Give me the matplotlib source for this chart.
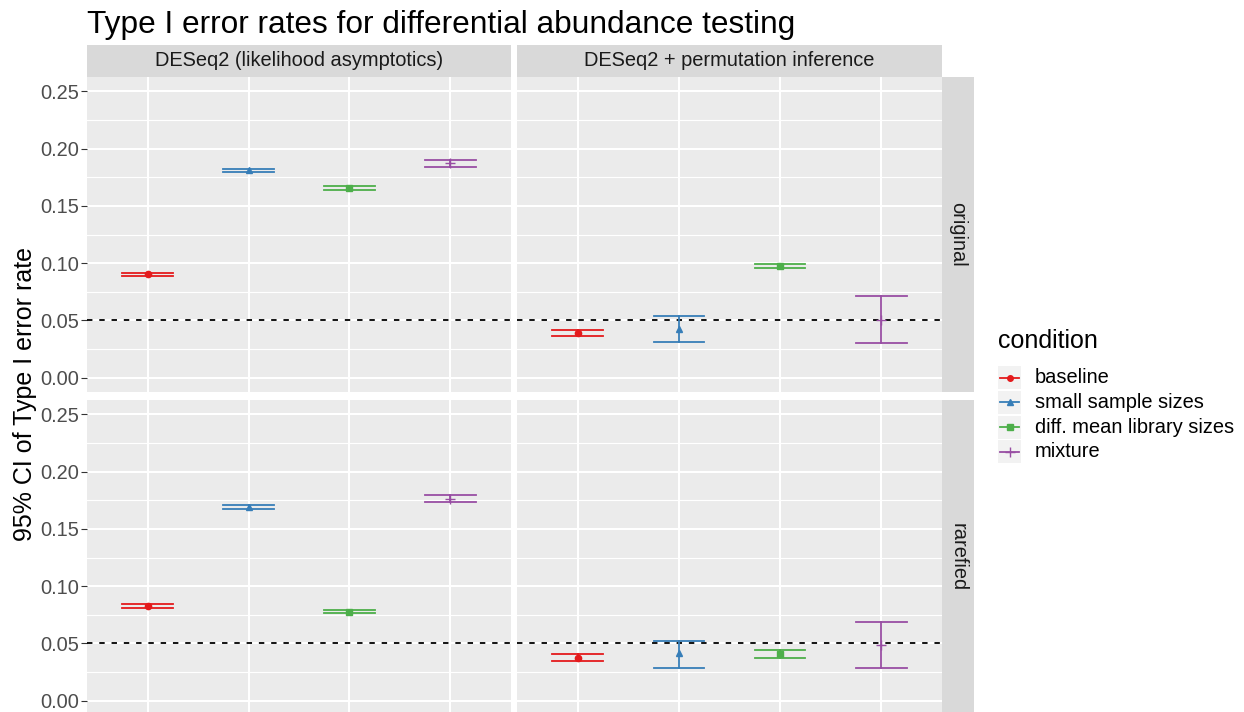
import numpy as np
import matplotlib
matplotlib.use('Agg')
import matplotlib.pyplot as plt
from matplotlib.patches import Rectangle

plt.rcParams['font.family'] = ['Liberation Sans', 'DejaVu Sans']

W, H = 1244, 712

conditions = ['baseline', 'small sample sizes', 'diff. mean library sizes', 'mixture']
colors = ['#E41A1C', '#377EB8', '#4DAF4A', '#984EA3']
markers = ['o', '^', 's', '+']

methods = ['DESeq2 (likelihood asymptotics)', 'DESeq2 + permutation inference']
datasets = ['original', 'rarefied']

# point estimate and 95% CI bounds, one list per panel
orig_asym_est = [0.0905, 0.1810, 0.1655, 0.1870]
orig_asym_lo = [0.0889, 0.1792, 0.1638, 0.1838]
orig_asym_hi = [0.0917, 0.1823, 0.1675, 0.1899]

orig_perm_est = [0.0386, 0.0424, 0.0975, 0.0506]
orig_perm_lo = [0.0360, 0.0308, 0.0958, 0.0299]
orig_perm_hi = [0.0418, 0.0537, 0.0990, 0.0714]

rare_asym_est = [0.0825, 0.1690, 0.0777, 0.1765]
rare_asym_lo = [0.0811, 0.1671, 0.0765, 0.1732]
rare_asym_hi = [0.0840, 0.1706, 0.0788, 0.1796]

rare_perm_est = [0.0375, 0.0412, 0.0410, 0.0485]
rare_perm_lo = [0.0348, 0.0287, 0.0375, 0.0282]
rare_perm_hi = [0.0406, 0.0523, 0.0444, 0.0691]

panels = {
    ('original', 0): (orig_asym_est, orig_asym_lo, orig_asym_hi),
    ('original', 1): (orig_perm_est, orig_perm_lo, orig_perm_hi),
    ('rarefied', 0): (rare_asym_est, rare_asym_lo, rare_asym_hi),
    ('rarefied', 1): (rare_perm_est, rare_perm_lo, rare_perm_hi),
}

yticks = [0.00, 0.05, 0.10, 0.15, 0.20, 0.25]
alpha_level = 0.05


def px_axes(fig, x0, y0, x1, y1):
    return fig.add_axes([x0 / W, 1 - y1 / H, (x1 - x0) / W, (y1 - y0) / H])


def msize(m):
    return 7 if m == '+' else 4.5


fig = plt.figure(figsize=(W / 100, H / 100), dpi=100)

col_x = [(87, 511), (517, 942)]
row_y = [(77, 392), (400, 715)]

for r, ds in enumerate(datasets):
    for c in range(2):
        x0, x1 = col_x[c]
        y0, y1 = row_y[r]
        ax = px_axes(fig, x0, y0, x1, y1)
        ax.set_facecolor('#EBEBEB')
        for s in ax.spines.values():
            s.set_visible(False)
        ax.set_xlim(0.4, 4.6)
        ax.set_ylim(-0.0125, 0.2625)
        ax.set_xticks([1, 2, 3, 4])
        ax.set_xticklabels([])
        ax.set_yticks(yticks)
        ax.set_yticks([0.025, 0.075, 0.125, 0.175, 0.225], minor=True)
        ax.grid(which='major', color='white', linewidth=1.5)
        ax.grid(which='minor', axis='y', color='white', linewidth=0.8)
        ax.set_axisbelow(True)
        ax.tick_params(axis='x', length=0)
        ax.tick_params(axis='y', which='minor', length=0)
        if c == 0:
            ax.set_yticklabels(['%.2f' % t for t in yticks])
            ax.tick_params(axis='y', which='major', length=4, width=0.8,
                           color='#333333', labelcolor='#4D4D4D',
                           labelsize=14.4, pad=2)
        else:
            ax.set_yticklabels([])
            ax.tick_params(axis='y', which='major', length=0)

        ax.axhline(alpha_level, color='black', linewidth=1.3,
                   linestyle=(0, (3.0, 3.8)), zorder=2)

        est, lo, hi = panels[(ds, c)]
        for i in range(len(conditions)):
            xi = i + 1
            ax.plot([xi, xi], [lo[i], hi[i]], color=colors[i], linewidth=1.3, zorder=3)
            ax.plot([xi - 0.25, xi + 0.25], [lo[i], lo[i]], color=colors[i], linewidth=1.3, zorder=3)
            ax.plot([xi - 0.25, xi + 0.25], [hi[i], hi[i]], color=colors[i], linewidth=1.3, zorder=3)
            ax.plot([xi], [est[i]], marker=markers[i], color=colors[i],
                    markersize=msize(markers[i]), markeredgewidth=1.0,
                    linestyle='none', zorder=4)

        # facet strips
        if r == 0:
            sax = px_axes(fig, x0, 45, x1, 77)
            sax.set_facecolor('#D9D9D9')
            sax.set_xticks([])
            sax.set_yticks([])
            for s in sax.spines.values():
                s.set_visible(False)
            sax.text(0.5, 0.5, methods[c], ha='center', va='center',
                     fontsize=14.4, color='#1A1A1A', transform=sax.transAxes)
        if c == 1:
            sax = px_axes(fig, 942, y0, 974, y1)
            sax.set_facecolor('#D9D9D9')
            sax.set_xticks([])
            sax.set_yticks([])
            for s in sax.spines.values():
                s.set_visible(False)
            sax.text(0.5, 0.5, ds, ha='center', va='center', rotation=-90,
                     fontsize=14.4, color='#1A1A1A', transform=sax.transAxes)

fig.text(87 / W, 1 - 33 / H, 'Type I error rates for differential abundance testing',
         fontsize=22.8, ha='left', va='baseline', color='black')
fig.text(25 / W, 1 - 394 / H, '95% CI of Type I error rate', rotation=90,
         fontsize=18, ha='center', va='center', color='black')

# legend drawn in pixel space
lax = fig.add_axes([0, 0, 1, 1], facecolor='none')
lax.set_xlim(0, W)
lax.set_ylim(H, 0)
lax.axis('off')
lax.text(998, 348, 'condition', fontsize=18, ha='left', va='baseline')
for i, name in enumerate(conditions):
    yc = 377.5 + 24.8 * i
    lax.add_patch(Rectangle((998, yc - 11.5), 23, 23, facecolor='#F2F2F2',
                            edgecolor='none'))
    lax.plot([1000, 1019], [yc, yc], color=colors[i], linewidth=1.3)
    lax.plot([1009.5], [yc], marker=markers[i], color=colors[i],
             markersize=msize(markers[i]) - 0.5, markeredgewidth=1.0,
             linestyle='none')
    lax.text(1035, yc, name, fontsize=14.4, ha='left', va='center', color='black')

fig.savefig('out.png', dpi=100)
